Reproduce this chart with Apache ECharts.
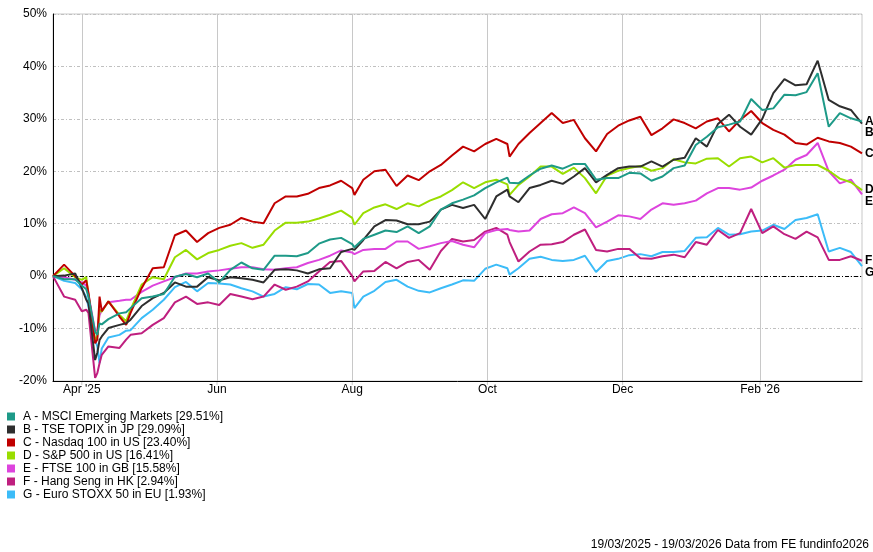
<!DOCTYPE html>
<html><head><meta charset="utf-8">
<script src="https://cdn.jsdelivr.net/npm/echarts@6/dist/echarts.min.js"></script>
<style>html,body{margin:0;padding:0;background:#fff}#c{width:873px;height:552px}</style>
</head><body><div id="c"></div>
<script>
const dates = ['2025-03-19','2025-03-24','2025-03-29','2025-04-01','2025-04-03','2025-04-04','2025-04-07','2025-04-08','2025-04-09','2025-04-10',
'2025-04-13','2025-04-18','2025-04-21','2025-04-23','2025-04-28','2025-05-03','2025-05-08','2025-05-13','2025-05-18','2025-05-23',
'2025-05-28','2025-06-02','2025-06-07','2025-06-12','2025-06-17','2025-06-22','2025-06-27','2025-07-02','2025-07-07','2025-07-12',
'2025-07-17','2025-07-22','2025-07-27','2025-08-01','2025-08-02','2025-08-06','2025-08-11','2025-08-16','2025-08-21','2025-08-26',
'2025-08-31','2025-09-05','2025-09-10','2025-09-15','2025-09-20','2025-09-25','2025-09-30','2025-10-05','2025-10-10','2025-10-11',
'2025-10-15','2025-10-20','2025-10-25','2025-10-30','2025-11-04','2025-11-09','2025-11-14','2025-11-19','2025-11-24','2025-11-29',
'2025-12-04','2025-12-09','2025-12-14','2025-12-19','2025-12-24','2025-12-29','2026-01-03','2026-01-08','2026-01-13','2026-01-18',
'2026-01-23','2026-01-28','2026-02-02','2026-02-07','2026-02-12','2026-02-17','2026-02-22','2026-02-27','2026-03-04','2026-03-09',
'2026-03-14','2026-03-19'];

const msciEM = [0,-0.6,-0.6,-1.8,-2.5,-3.9,-10.6,-11.2,-9.0,-9.2,
-8.2,-7.1,-6.9,-6.1,-4.2,-3.9,-3.4,-0.1,0.4,-0.2,
0.5,-1.2,1.2,2.6,1.5,1.2,3.9,3.9,3.8,4.4,
6.2,7.0,7.3,6.1,5.5,7.1,7.9,8.7,8.4,9.5,
8.2,9.5,12.7,13.9,14.6,15.4,16.8,17.9,18.8,17.8,
17.7,19.2,20.5,21.1,20.5,21.4,21.4,18.4,18.7,18.7,
19.7,19.6,18.2,19.0,20.6,21.1,25.0,26.6,28.4,28.9,
29.5,33.8,31.7,32.0,34.6,34.5,35.1,38.7,28.5,31.1,
30.1,29.51];

const topix = [0,0.1,0.5,-2.3,-4.5,-5.2,-16.0,-14.6,-12.2,-11.5,
-9.9,-9.3,-9.0,-8.3,-5.7,-4.2,-3.2,-1.2,-2.0,-2.0,
-0.2,-0.8,-0.2,-0.4,-0.7,-1.2,1.2,1.3,1.1,0.5,
1.3,1.5,4.6,5.2,5.0,6.9,9.5,10.7,10.6,9.9,
9.9,10.4,12.7,13.6,13.0,13.6,10.9,15.2,16.5,15.2,
14.1,16.8,17.4,18.2,17.6,19.0,20.6,17.9,19.3,20.6,
20.9,20.9,21.9,20.9,22.2,22.6,26.3,24.7,29.0,30.8,
28.5,27.0,30.0,34.9,37.6,36.4,36.6,41.1,33.6,32.4,
31.7,29.09];

const nasdaq100 = [0,2.2,0,-1.6,-0.8,-3.2,-12.8,-12.1,-3.9,-6.7,
-4.8,-7.7,-9.3,-7.0,-2.3,1.5,1.7,7.8,8.7,6.5,
8.2,9.2,9.8,11.1,10.4,10.1,13.9,15.2,15.2,15.7,
16.8,17.3,18.2,16.8,15.5,18.4,20.0,20.3,17.2,19.2,
18.3,20.0,21.2,23.0,24.7,23.8,25.2,26.2,25.2,22.8,
25.2,27.3,29.2,31.1,29.2,29.8,26.3,23.8,27.1,28.7,
29.7,30.4,26.9,28.2,29.9,29.2,28.2,29.5,30.1,27.6,
29.8,31.5,29.2,27.9,27.0,25.4,25.1,26.4,25.7,25.4,
24.7,23.40];

const sp500 = [0,1.5,-0.2,-0.7,-0.2,-3.6,-12.2,-11.5,-6.4,-6.8,
-4.8,-7.4,-8.6,-6.4,-1.6,-0.2,-0.6,3.6,5.0,3.2,
4.4,5.0,5.8,6.3,5.4,6.0,8.7,10.2,10.2,10.4,
11.0,11.7,12.5,11.1,9.8,12.0,13.1,13.7,12.8,13.9,
13.3,14.4,15.2,16.4,17.9,16.8,17.9,18.4,17.5,15.5,
17.4,19.0,20.9,20.9,19.5,20.7,18.7,15.8,19.2,20.1,
20.6,21.0,20.1,20.6,22.3,21.7,21.5,22.4,22.5,20.9,
22.5,22.8,21.7,22.5,20.7,21.2,21.2,21.2,20.1,18.6,
17.9,16.41];

const ftse100 = [0,-0.2,-0.7,-1.2,-1.8,-3.5,-10.5,-10.2,-7.5,-6.5,
-5.0,-4.7,-4.5,-4.5,-3.0,-1.8,-1.0,-0.2,0.5,0.5,
0.9,1.1,1.4,1.7,1.7,1.3,1.2,1.5,1.7,2.5,
3.1,3.9,4.9,4.5,4.2,5.0,5.2,5.2,6.6,6.6,
5.2,5.7,6.3,6.7,6.0,5.5,8.2,8.8,9.0,8.8,
8.5,8.7,10.9,11.8,12.0,13.1,12.0,9.3,10.4,11.6,
11.4,10.9,12.7,13.9,13.6,13.9,14.4,15.8,16.8,16.8,
16.5,16.9,18.2,19.2,20.3,22.2,23.1,25.4,20.0,17.7,
18.4,15.58];

const hangSeng = [0,-3.9,-4.5,-6.7,-6.4,-7.0,-19.4,-18.5,-16.6,-15.0,
-13.4,-13.7,-12.1,-11.2,-10.9,-9.3,-8.0,-5.0,-3.9,-5.3,
-5.0,-5.5,-3.4,-3.9,-4.4,-3.9,-1.6,-2.6,-2.0,-1.0,
0.9,2.7,2.9,0.0,-1.0,0.9,1.0,2.7,1.5,2.7,
3.1,1.2,4.8,7.1,6.6,6.9,8.5,9.2,7.9,6.5,
2.8,4.7,6.0,6.1,6.5,7.9,8.9,5.0,4.7,5.2,
5.2,3.4,3.3,3.8,4.1,3.6,6.5,6.0,8.8,7.3,
8.2,12.8,8.2,9.5,8.0,7.1,8.5,7.4,3.1,3.1,
3.8,2.94];

const euroStoxx50 = [0,-0.9,-1.3,-2.5,-4.0,-5.8,-12.2,-13.4,-16.6,-13.8,
-11.7,-11.2,-10.4,-10.3,-8.0,-6.4,-4.5,-2.1,-1.1,-2.9,
-1.3,-1.4,-1.6,-2.3,-2.9,-3.9,-3.4,-2.1,-2.5,-1.5,
-1.6,-3.2,-2.9,-3.2,-6.1,-3.9,-2.8,-1.1,-0.7,-2.0,
-2.8,-3.1,-2.3,-1.6,-0.8,-0.9,1.4,2.2,1.5,0.3,
1.5,3.3,3.7,3.1,2.9,3.1,3.9,0.8,2.9,3.3,
4.0,4.2,3.8,4.6,4.6,4.8,7.3,7.4,9.2,7.9,
8.0,8.5,8.7,9.8,9.0,10.7,11.1,11.8,4.7,5.4,
4.6,1.93];

const seriesLetters = ['A','B','C','D','E','F','G'];
const seriesNames = ['A - MSCI Emerging Markets [29.51%]','B - TSE TOPIX in JP [29.09%]','C - Nasdaq 100 in US [23.40%]',
  'D - S&P 500 in US [16.41%]','E - FTSE 100 in GB [15.58%]','F - Hang Seng in HK [2.94%]','G - Euro STOXX 50 in EU [1.93%]'];
const seriesColors = ['#1e9a88','#2e2e2e','#c00000','#99dd00','#dd44dd','#bf1f7f','#3cbcf8'];
const seriesValues = [msciEM, topix, nasdaq100, sp500, ftse100, hangSeng, euroStoxx50];

const tickDates = ['2025-04-01','2025-06-01','2025-08-01','2025-10-01','2025-12-01','2026-02-01'];
const tickLabels = ["Apr '25",'Jun','Aug','Oct','Dec',"Feb '26"];
const xMin = '2025-03-19', xMax = '2026-03-19';
const yMin = -20, yMax = 50, yStep = 10;
const footerText = '19/03/2025 - 19/03/2026 Data from FE fundinfo2026';

function ts(s){const p=s.split('-').map(Number);return new Date(p[0],p[1]-1,p[2]).getTime();}
const FONT = '"Liberation Sans", Arial, sans-serif';

const chart = echarts.init(document.getElementById('c'), null, {renderer:'canvas'});
const GRID = {left:53, top:14, width:809, height:367};

const series = seriesValues.map((vals,i)=>({
  name: seriesNames[i],
  type:'line',
  data: dates.map((d,j)=>[ts(d), vals[j]]),
  showSymbol:false,
  symbol:'none',
  color: seriesColors[i],
  lineStyle:{width:2, color: seriesColors[i]},
  z: 10 - i,
  animation:false
})).reverse();

// month gridlines with their labels below the axis
series.push({
  type:'line', data:[], silent:true, z:1,
  markLine:{silent:true, symbol:'none', animation:false,
    lineStyle:{color:'#c8c8c8', type:'solid', width:1},
    label:{show:true, position:'start', distance:3, color:'#000', fontSize:12, fontFamily:FONT,
      formatter:(p)=>tickLabels[p.dataIndex]},
    data: tickDates.map(d=>({xAxis: ts(d)}))}
});
// zero reference line, dash-dot
series.push({
  type:'line', data:[], silent:true, z:1,
  markLine:{silent:true, symbol:'none', label:{show:false}, animation:false,
    lineStyle:{color:'#000', type:[4,2,1,2], width:1},
    data:[{yAxis:0}]}
});

chart.setOption({
  animation:false,
  backgroundColor:'#fff',
  textStyle:{fontFamily:FONT},
  grid:{...GRID, show:true, borderColor:'#c8c8c8', borderWidth:1, containLabel:false},
  xAxis:{
    type:'time', min:ts(xMin), max:ts(xMax),
    axisLine:{show:true, onZero:false, lineStyle:{color:'#000', width:1}},
    axisTick:{show:false},
    splitLine:{show:false},
    axisLabel:{show:false}
  },
  yAxis:{
    type:'value', min:yMin, max:yMax, interval:yStep,
    axisLine:{show:true, onZero:false, lineStyle:{color:'#000', width:1}},
    axisTick:{show:false},
    splitLine:{show:true, lineStyle:{color:'#c0c0c0', width:1, type:[3,2,1,2]}},
    axisLabel:{color:'#000', fontSize:12, fontFamily:FONT, margin:6, formatter:'{value}%'}
  },
  legend:{
    data: seriesNames, orient:'vertical', left:7, top:410, padding:0,
    itemWidth:8, itemHeight:8, itemGap:0, icon:'rect', selectedMode:false,
    textStyle:{color:'#000', fontSize:12, fontFamily:FONT, lineHeight:13, padding:[0,0,0,3]}
  },
  series: series
});

// end-of-line letters, positioned from the library's scale, nudged apart to avoid overlap
const ends = seriesValues.map((vals,i)=>{
  const p = chart.convertToPixel({gridIndex:0}, [ts(dates[dates.length-1]), vals[vals.length-1]]);
  return {letter:seriesLetters[i], x:p[0], y:p[1]};
}).sort((a,b)=>a.y-b.y);
for (let i=1;i<ends.length;i++){ if (ends[i].y < ends[i-1].y + 11.5) ends[i].y = ends[i-1].y + 11.5; }

const graphics = [];
ends.forEach(e=>graphics.push({
  type:'text', silent:true,
  style:{text:e.letter, x:e.x+3, y:e.y, textAlign:'left', textVerticalAlign:'middle',
    font:'bold 12px ' + FONT, fill:'#000'}
}));
// small tick marks under the axis at each month line
tickDates.forEach(d=>{
  const p = chart.convertToPixel({gridIndex:0}, [ts(d), yMin]);
  graphics.push({type:'line', silent:true, shape:{x1:p[0], y1:p[1], x2:p[0], y2:p[1]+4},
    style:{stroke:'#c8c8c8', lineWidth:1}});
});
graphics.push({type:'text', silent:true,
  style:{text:footerText, x:869, y:545, textAlign:'right', textVerticalAlign:'middle',
    font:'12px ' + FONT, fill:'#000'}});
chart.setOption({graphic: graphics});
</script></body></html>
